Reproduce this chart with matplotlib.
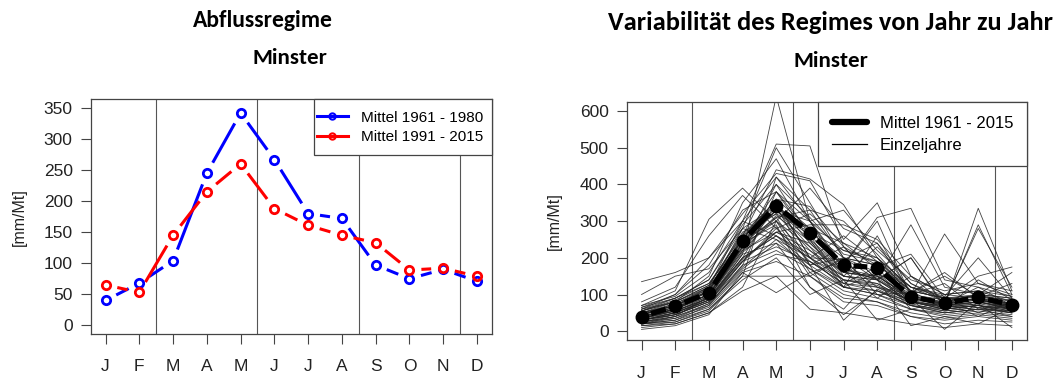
import numpy as np
import matplotlib
matplotlib.use('Agg')
import matplotlib.pyplot as plt
from matplotlib import font_manager
from matplotlib.patches import Rectangle

# Monthly discharge, Minster
monate = ['J', 'F', 'M', 'A', 'M', 'J', 'J', 'A', 'S', 'O', 'N', 'D']
mittel_1961_1980 = [40, 68, 104, 245, 342, 267, 180, 172, 97, 75, 90, 71]
mittel_1991_2015 = [65, 53, 145, 215, 260, 188, 161, 145, 133, 89, 92, 79]
mittel_1961_2015 = [40, 68, 105, 245, 342, 268, 180, 173, 94, 76, 92, 72]

# single years 1961 - 2015 (J .. D)
einzeljahre = [
    [30, 45, 85, 210, 640, 300, 170, 140, 80, 60, 70, 55],
    [45, 70, 120, 300, 510, 505, 230, 180, 110, 90, 85, 70],
    [35, 60, 110, 280, 500, 350, 200, 160, 100, 70, 80, 60],
    [50, 80, 150, 350, 470, 300, 220, 190, 90, 80, 100, 90],
    [25, 40, 95, 260, 440, 415, 345, 200, 120, 80, 90, 65],
    [60, 100, 200, 320, 430, 410, 250, 350, 150, 100, 110, 80],
    [40, 55, 90, 230, 400, 260, 180, 310, 335, 140, 120, 95],
    [20, 30, 70, 180, 380, 250, 170, 140, 290, 120, 100, 70],
    [55, 90, 130, 250, 360, 280, 240, 200, 100, 265, 130, 100],
    [30, 50, 85, 200, 350, 240, 150, 130, 80, 70, 335, 110],
    [45, 65, 100, 240, 330, 230, 160, 150, 90, 75, 290, 100],
    [35, 60, 110, 260, 320, 220, 140, 120, 85, 80, 280, 120],
    [70, 110, 305, 390, 300, 200, 150, 140, 90, 70, 80, 60],
    [80, 120, 260, 370, 280, 190, 130, 110, 80, 60, 70, 50],
    [135, 160, 200, 300, 260, 180, 120, 100, 70, 50, 60, 40],
    [100, 150, 170, 280, 250, 170, 110, 90, 60, 45, 55, 45],
    [20, 25, 60, 150, 420, 330, 200, 180, 120, 90, 95, 75],
    [15, 20, 50, 120, 300, 390, 280, 240, 130, 80, 100, 80],
    [40, 60, 100, 220, 310, 330, 300, 210, 110, 90, 85, 65],
    [30, 45, 80, 190, 270, 290, 290, 250, 150, 100, 90, 60],
    [50, 70, 110, 240, 290, 120, 60, 160, 80, 65, 80, 60],
    [25, 35, 75, 170, 240, 120, 45, 110, 70, 55, 65, 50],
    [60, 90, 140, 280, 340, 180, 230, 140, 200, 70, 90, 75],
    [45, 75, 120, 250, 300, 160, 190, 120, 100, 130, 60, 80],
    [35, 55, 90, 200, 260, 200, 140, 130, 80, 70, 80, 65],
    [20, 30, 60, 140, 200, 100, 140, 30, 60, 40, 50, 40],
    [15, 25, 55, 150, 150, 150, 80, 70, 40, 30, 40, 30],
    [10, 20, 50, 110, 150, 60, 50, 35, 20, 10, 20, 15],
    [5, 15, 45, 160, 105, 160, 100, 80, 40, 20, 30, 25],
    [55, 85, 130, 260, 350, 200, 260, 190, 110, 60, 140, 85],
    [65, 100, 180, 330, 380, 270, 220, 200, 120, 100, 110, 95],
    [40, 65, 100, 230, 330, 300, 150, 230, 130, 90, 50, 80],
    [30, 50, 85, 190, 280, 320, 240, 170, 90, 75, 85, 70],
    [50, 75, 115, 250, 360, 340, 230, 140, 80, 60, 70, 60],
    [25, 40, 75, 175, 250, 200, 120, 100, 60, 50, 60, 55],
    [70, 95, 160, 300, 420, 300, 330, 220, 140, 110, 130, 110],
    [45, 70, 105, 235, 300, 230, 120, 260, 100, 85, 95, 85],
    [35, 55, 90, 210, 240, 180, 30, 115, 70, 60, 70, 60],
    [20, 35, 65, 160, 190, 150, 90, 80, 50, 35, 45, 35],
    [60, 80, 125, 270, 320, 270, 200, 180, 110, 90, 150, 175],
    [40, 60, 95, 220, 270, 220, 160, 150, 95, 80, 100, 160],
    [30, 45, 80, 180, 220, 170, 120, 110, 70, 50, 60, 50],
    [55, 80, 120, 250, 330, 260, 130, 175, 210, 90, 100, 90],
    [45, 65, 110, 240, 310, 180, 200, 100, 105, 160, 90, 75],
    [35, 50, 90, 200, 260, 210, 150, 140, 15, 40, 20, 65],
    [25, 45, 80, 190, 230, 190, 140, 125, 80, 65, 70, 55],
    [50, 70, 115, 250, 380, 300, 180, 300, 95, 75, 85, 70],
    [40, 60, 100, 230, 340, 280, 170, 150, 90, 5, 80, 65],
    [65, 90, 140, 290, 400, 310, 210, 190, 120, 95, 200, 90],
    [30, 50, 85, 195, 270, 240, 160, 145, 85, 65, 75, 10],
    [20, 40, 70, 165, 210, 190, 130, 120, 75, 55, 65, 50],
    [45, 70, 110, 245, 330, 250, 120, 160, 60, 80, 40, 80],
    [35, 55, 95, 215, 285, 150, 200, 140, 200, 65, 75, 60],
    [55, 80, 125, 265, 355, 200, 195, 240, 105, 150, 95, 130],
    [40, 60, 100, 225, 315, 245, 165, 90, 150, 75, 120, 70],
]

installed = {f.name for f in font_manager.fontManager.ttflist}
title_font = 'Carlito' if 'Carlito' in installed else 'Lato'
plt.rcParams['font.family'] = ['Liberation Sans', 'DejaVu Sans']

x = np.arange(1, 13)


def gapped(ax, xs, ys, gap, **kw):
    # R-style type="b": line segments stop short of each point
    pts = ax.transData.transform(np.column_stack([xs, ys]).astype(float))
    segs = []
    for p, q in zip(pts[:-1], pts[1:]):
        d = q - p
        n = np.hypot(*d)
        if n > 2 * gap:
            u = d / n
            segs += [p + u * gap, q - u * gap, [np.nan, np.nan]]
    segs = np.array(segs)
    data = ax.transData.inverted().transform(segs)
    ax.plot(data[:, 0], data[:, 1], solid_capstyle='butt', **kw)


def style(ax, ylim, yticks, xpad):
    ax.set_xlim(0.56, 12.44)
    ax.set_ylim(*ylim)
    ax.set_xticks(x)
    ax.set_xticklabels(monate)
    ax.set_yticks(yticks)
    for s in ax.spines.values():
        s.set_color('#444444')
        s.set_linewidth(0.9)
    ax.tick_params(axis='both', length=7, width=0.8, color='#444444',
                   labelsize=12.5, labelcolor='#222222')
    ax.tick_params(axis='y', pad=6)
    ax.tick_params(axis='x', pad=xpad)
    for xv in [2.5, 5.5, 8.5, 11.5]:
        ax.axvline(xv, color='#555555', lw=0.8, zorder=1)
    ax.set_ylabel('[mm/Mt]', fontsize=11.5, color='#222222')


fig = plt.figure(figsize=(10.61, 3.81), dpi=100)

# left: mean regime for two periods
ax1 = fig.add_axes([0.0855, 0.1234, 0.378, 0.616])
style(ax1, (-14, 364), range(0, 351, 50), 11)
ax1.yaxis.set_label_coords(-0.158, 0.5)
gapped(ax1, x, mittel_1961_1980, 12, color='#0000ff', lw=2.2, zorder=3)
gapped(ax1, x, mittel_1991_2015, 12, color='#ff0000', lw=2.2, zorder=3)
ax1.plot(x, mittel_1961_1980, 'o', ms=6, mfc='none', mec='#0000ff', mew=2, zorder=4)
ax1.plot(x, mittel_1991_2015, 'o', ms=6, mfc='none', mec='#ff0000', mew=2, zorder=4)

# legend box drawn separately so its padding can be uneven
ax1.add_patch(Rectangle((0.557, 0.763), 0.443, 0.237, transform=ax1.transAxes,
                        facecolor='white', edgecolor='#444444', lw=0.9, zorder=5,
                        clip_on=False))
h1 = ax1.plot([], [], '-o', color='#0000ff', lw=2.2, ms=4.5, mfc='none', mew=1.5)[0]
h2 = ax1.plot([], [], '-o', color='#ff0000', lw=2.2, ms=4.5, mfc='none', mew=1.5)[0]
leg = ax1.legend([h1, h2], ['Mittel 1961 - 1980', 'Mittel 1991 - 2015'],
                 loc='center left', bbox_to_anchor=(0.5643, 0.880), borderaxespad=0,
                 fontsize=11, frameon=False, handlelength=2.0, handletextpad=0.9,
                 borderpad=0, labelspacing=0.35)
leg.set_zorder(6)

# right: spread of the single years around the long-term mean
ax2 = fig.add_axes([0.5907, 0.1076, 0.377, 0.624])
style(ax2, (-24, 624), range(0, 601, 100), 12)
ax2.yaxis.set_label_coords(-0.162, 0.5)
for jahr in einzeljahre:
    ax2.plot(x, jahr, color='#222222', lw=0.6, alpha=0.85, zorder=2)
gapped(ax2, x, mittel_1961_2015, 10, color='black', lw=3.8, zorder=3)
ax2.plot(x, mittel_1961_2015, 'o', ms=9, color='black', zorder=4)
h3 = ax2.plot([], [], color='black', lw=4.5, solid_capstyle='round')[0]
h4 = ax2.plot([], [], color='black', lw=0.9)[0]
leg2 = ax2.legend([h3, h4], ['Mittel 1961 - 2015', 'Einzeljahre'],
                  loc='upper right', bbox_to_anchor=(1, 1), borderaxespad=0,
                  fontsize=12, frameon=True, fancybox=False, framealpha=1,
                  edgecolor='#444444', handlelength=2.1, handletextpad=0.8,
                  borderpad=0.8, labelspacing=0.42)
leg2.get_frame().set_linewidth(0.9)
leg2.set_zorder(5)

# headings
fig.text(263 / 1061, 1 - 27 / 381, 'Abflussregime', ha='center', va='baseline',
         fontsize=17, fontweight='bold', family=title_font)
fig.text(290 / 1061, 1 - 64 / 381, 'Minster', ha='center', va='baseline',
         fontsize=16.5, fontweight='bold', family=title_font)
fig.text(830 / 1061, 1 - 30 / 381, 'Variabilität des Regimes von Jahr zu Jahr',
         ha='center', va='baseline', fontsize=19, fontweight='bold', family=title_font)
fig.text(831 / 1061, 1 - 67 / 381, 'Minster', ha='center', va='baseline',
         fontsize=16.5, fontweight='bold', family=title_font)

fig.savefig('out.png', dpi=100)
